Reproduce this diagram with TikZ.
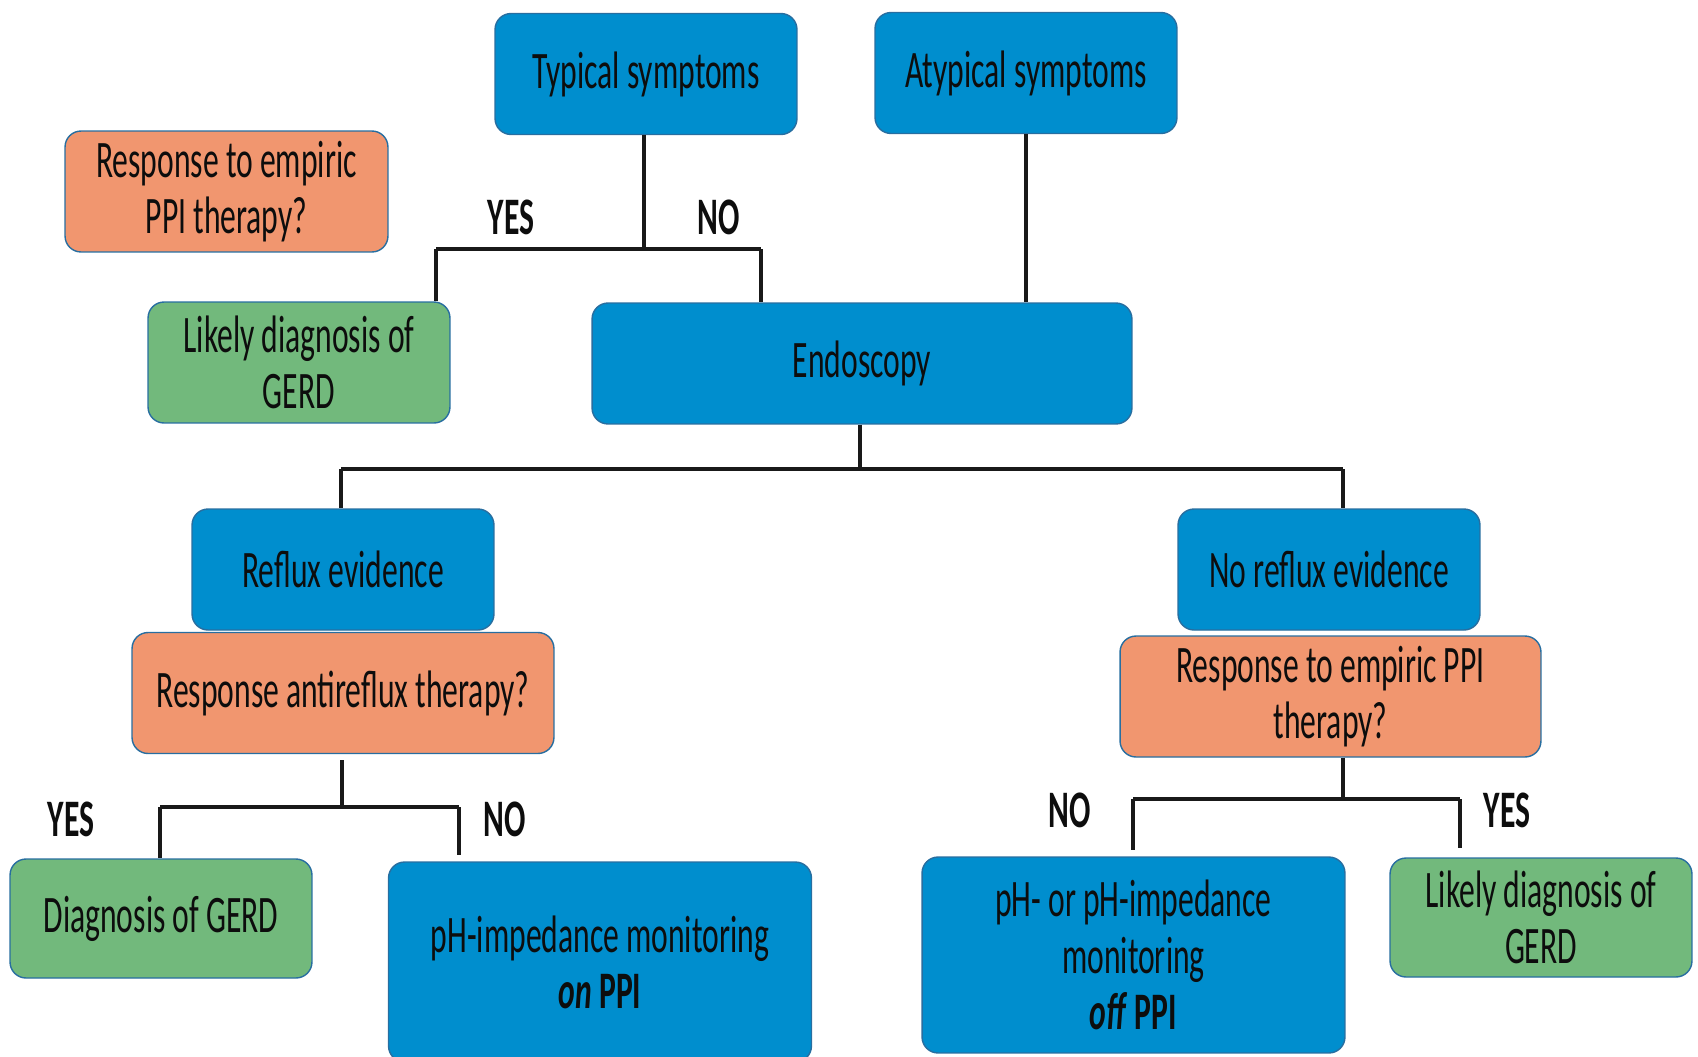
\documentclass[tikz,border=0pt]{standalone}
\usepackage{fontspec}
\setmainfont{Carlito}[FakeStretch=0.6]
\usepackage{tikz}
\usetikzlibrary{positioning}

\definecolor{boxblue}{RGB}{0,142,206}
\definecolor{boxorange}{RGB}{241,150,111}
\definecolor{boxgreen}{RGB}{114,185,124}
\definecolor{boxedge}{RGB}{40,110,160}

\begin{document}
\begin{tikzpicture}
    [x=0.02cm, y=-0.02cm,
    every node/.style={font=\fontsize{30}{32}\selectfont, text=black!95},
    bluenode/.style={rectangle, rounded corners=0.32cm, draw=boxedge, line width=0.8pt, fill=boxblue, align=center, minimum width=6.04cm, minimum height=2.42cm},
    orangenode/.style={bluenode, fill=boxorange},
    greennode/.style={bluenode, fill=boxgreen},
    answer/.style={font=\fontsize{30}{32}\selectfont\bfseries},
    link/.style={line width=2pt, black!90},]

    \useasboundingbox (0,0) rectangle (1698,1056);
    \clip (0,0) rectangle (1698,1056);

    %Nodes
    \node[bluenode](typical) at (646,74) {Typical symptoms};
    \node[bluenode](atypical) at (1026,73) {Atypical symptoms};
    \node[orangenode, minimum width=6.46cm](empiric) at (226.5,191.5) {Response to empiric\\PPI therapy?};
    \node[greennode](likely) at (299,362.5) {Likely diagnosis of\\GERD};
    \node[bluenode, minimum width=10.8cm](endo) at (862,363.5) {Endoscopy};

    \node[bluenode](reflux) at (343,569.5) {Reflux evidence};
    \node[orangenode, minimum width=8.44cm](antireflux) at (343,693) {Response antireflux therapy?};
    \node[bluenode](noreflux) at (1329,569.5) {No reflux evidence};
    \node[orangenode, minimum width=8.42cm](empiric2) at (1330.5,696.5) {Response to empiric PPI\\therapy?};

    \node[greennode, minimum height=2.38cm](diag) at (161,918.5) {Diagnosis of GERD};
    \node[bluenode, minimum width=8.46cm, minimum height=4cm](onppi) at (600,962) {pH-impedance monitoring\\\textbf{\textit{on} PPI}};
    \node[bluenode, minimum width=8.46cm, minimum height=3.92cm](offppi) at (1133.5,955) {pH- or pH-impedance\\monitoring\\\textbf{\textit{off} PPI}};
    \node[greennode, minimum height=2.38cm](likely2) at (1541,917.5) {Likely diagnosis of\\GERD};

    \node[answer](yes1) at (511,217) {YES};
    \node[answer](no1) at (719,217) {NO};
    \node[answer](yes2) at (71,819) {YES};
    \node[answer](no2) at (505,819) {NO};
    \node[answer](no3) at (1070,810) {NO};
    \node[answer](yes3) at (1507,810) {YES};

    %Lines
    \coordinate (tjoin) at (644,249);
    \coordinate (tyes) at (436,249);
    \coordinate (tno) at (761,249);
    \draw[link](tjoin |- typical.south)--(tjoin);
    \draw[link](tyes)--(tno);
    \draw[link](tyes)--(tyes |- likely.north);
    \draw[link](tno)--(tno |- endo.north);
    \draw[link](atypical.south)--(atypical.south |- endo.north);

    \coordinate (ejoin) at (860,469);
    \coordinate (eleft) at (341,469);
    \coordinate (eright) at (1343,469);
    \draw[link](ejoin |- endo.south)--(ejoin);
    \draw[link](eleft)--(eright);
    \draw[link](eleft)--(eleft |- reflux.north);
    \draw[link](eright)--(eright |- noreflux.north);

    \coordinate (atop) at (342,760);
    \coordinate (ajoin) at (342,807);
    \coordinate (ayes) at (160,807);
    \coordinate (ano) at (459,807);
    \coordinate (anoend) at (459,855);
    \draw[link](atop)--(ajoin);
    \draw[link](ayes)--(ano);
    \draw[link](ayes)--(ayes |- diag.north);
    \draw[link](ano)--(anoend);

    \coordinate (rjoin) at (1343,799);
    \coordinate (rno) at (1133,799);
    \coordinate (ryes) at (1460,799);
    \coordinate (rnoend) at (1133,850);
    \coordinate (ryesend) at (1460,848);
    \draw[link](empiric2.south -| rjoin)--(rjoin);
    \draw[link](rno)--(ryes);
    \draw[link](rno)--(rnoend);
    \draw[link](ryes)--(ryesend);
\end{tikzpicture}
\end{document}
